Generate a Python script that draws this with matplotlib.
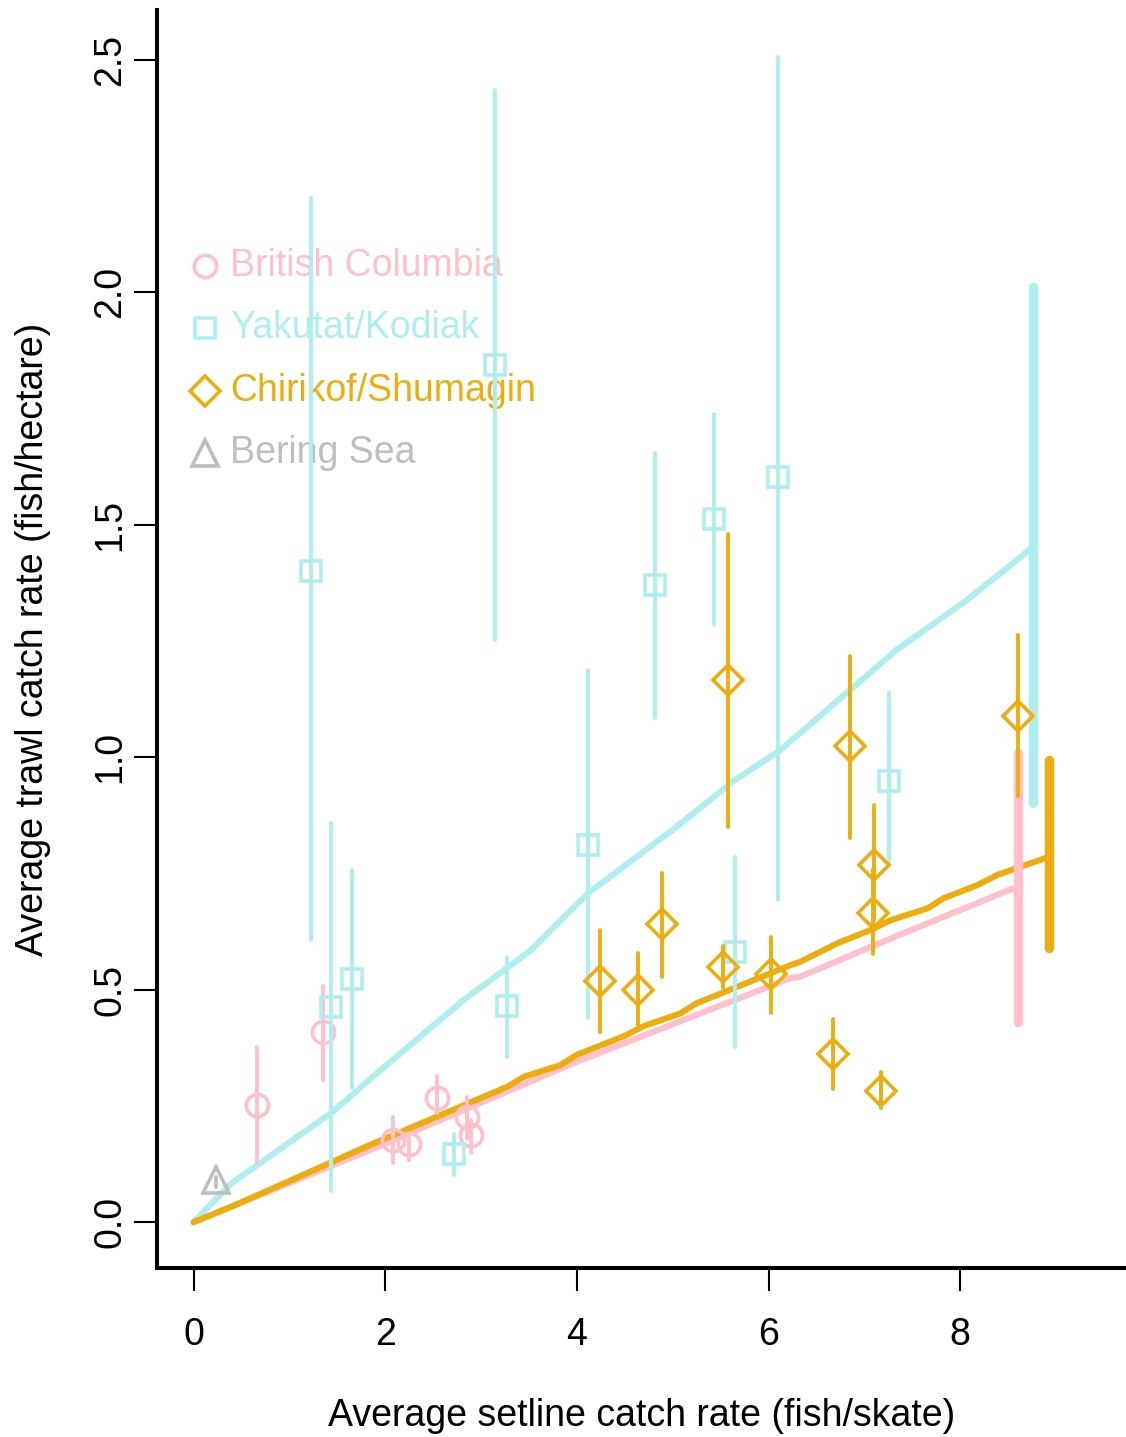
import matplotlib
matplotlib.use("Agg")
import matplotlib.pyplot as plt

plt.rcParams['font.family'] = ['Liberation Sans', 'DejaVu Sans']

# ---------------- data ----------------
regions = ["British Columbia", "Yakutat/Kodiak", "Chirikof/Shumagin", "Bering Sea"]
colors = ["#FFC0CB", "#AFEEEE", "#EEAD0E", "#BEBEBE"]
markers = ["o", "s", "D", "^"]

bc_x = [0.66, 1.35, 2.08, 2.25, 2.54, 2.85, 2.89]
bc_y = [0.252, 0.41, 0.177, 0.168, 0.267, 0.227, 0.187]
bc_lo = [0.127, 0.306, 0.127, 0.133, 0.234, 0.18, 0.148]
bc_hi = [0.377, 0.507, 0.227, 0.19, 0.314, 0.27, 0.22]

yk_x = [1.22, 1.43, 1.65, 2.72, 3.15, 3.27, 4.12, 4.82, 5.43, 5.645, 6.10, 7.26]
yk_y = [1.40, 0.463, 0.523, 0.146, 1.843, 0.465, 0.812, 1.371, 1.513, 0.582, 1.602, 0.949]
yk_lo = [0.606, 0.067, 0.288, 0.101, 1.252, 0.356, 0.439, 1.084, 1.284, 0.376, 0.692, 0.768]
yk_hi = [2.202, 0.858, 0.757, 0.19, 2.434, 0.57, 1.187, 1.654, 1.738, 0.785, 2.505, 1.14]

cs_x = [4.24, 4.635, 4.885, 5.52, 5.575, 6.025, 6.67, 6.85, 7.09, 7.10, 7.17, 8.60]
cs_y = [0.519, 0.50, 0.642, 0.548, 1.165, 0.534, 0.362, 1.025, 0.666, 0.768, 0.283, 1.088]
cs_lo = [0.41, 0.424, 0.528, 0.503, 0.851, 0.45, 0.286, 0.826, 0.577, 0.65, 0.245, 0.916]
cs_hi = [0.629, 0.578, 0.751, 0.593, 1.479, 0.614, 0.436, 1.217, 0.76, 0.898, 0.324, 1.262]

bs_x = [0.23]
bs_y = [0.09]
bs_lo = [0.075]
bs_hi = [0.097]

# fitted lines
bc_line_x = [0, 1.84, 4.0, 6.23, 6.33, 7.32, 8.53, 8.6]
bc_line_y = [0, 0.155, 0.345, 0.525, 0.528, 0.614, 0.716, 0.72]
yk_line_x = [0, 0.39, 1.43, 1.99, 2.82, 3.52, 4.12, 5.0, 5.65, 6.1, 6.33, 7.33, 8.07, 8.76]
yk_line_y = [0, 0.083, 0.234, 0.334, 0.478, 0.585, 0.708, 0.844, 0.951, 1.012, 1.052, 1.23, 1.338, 1.452]
cs_line_x = [0, 0.39, 0.94, 1.84, 2.54, 3.27, 3.45, 3.83, 4.0, 4.49, 4.70, 5.08, 5.25, 5.60,
             5.85, 6.23, 6.33, 6.72, 7.07, 7.28, 7.66, 7.83, 8.18, 8.39, 8.93]
cs_line_y = [0, 0.033, 0.083, 0.166, 0.227, 0.291, 0.313, 0.338, 0.36, 0.40, 0.422, 0.449, 0.471, 0.50,
             0.521, 0.553, 0.56, 0.60, 0.629, 0.65, 0.675, 0.697, 0.725, 0.747, 0.786]

# confidence bars at line ends
end_x = [8.6, 8.76, 8.93]
end_lo = [0.431, 0.901, 0.589]
end_hi = [1.009, 2.012, 0.995]

x_ticks = [0, 2, 4, 6, 8]
y_ticks = [0.0, 0.5, 1.0, 1.5, 2.0, 2.5]
y_ticklabels = ["0.0", "0.5", "1.0", "1.5", "2.0", "2.5"]

# ---------------- figure ----------------
W, H = 1126, 1437
fig = plt.figure(figsize=(W / 100, H / 100), dpi=100)
ax = fig.add_axes([157 / W, 1 - 1268 / H, (W - 157) / W, (1268 - 10) / H])

FS = 27
ax.set_xlim(-0.382, 9.73)
ax.set_ylim(-0.0985, 2.607)

MS = {"o": 16, "s": 15, "D": 15, "^": 19}
MEW = 2.6

# legend drawn first (underneath)
leg_ys = [0.7965, 0.7472, 0.6971, 0.6478]
for name, c, m, ly in zip(regions, colors, markers, leg_ys):
    ax.plot([0.0495], [ly], marker=m, ms=MS[m], mfc="none", mec=c, mew=MEW,
            linestyle="none", transform=ax.transAxes, zorder=1, clip_on=False)
    ax.text(0.0753, ly, name, color=c, fontsize=FS, transform=ax.transAxes,
            ha="left", va="center", zorder=1)

# fitted lines
ax.plot(yk_line_x, yk_line_y, color=colors[1], lw=4.4, zorder=2, solid_capstyle="round")
ax.plot(bc_line_x, bc_line_y, color=colors[0], lw=4.4, zorder=2, solid_capstyle="round")
ax.plot(cs_line_x, cs_line_y, color=colors[2], lw=4.4, zorder=2.1, solid_capstyle="round")

# end-of-line confidence bars
for xe, lo, hi, c in zip(end_x, end_lo, end_hi, colors[:3]):
    ax.plot([xe, xe], [lo, hi], color=c, lw=6.8, solid_capstyle="round", zorder=2.2)

series = [
    (bc_x, bc_y, bc_lo, bc_hi),
    (yk_x, yk_y, yk_lo, yk_hi),
    (cs_x, cs_y, cs_lo, cs_hi),
    (bs_x, bs_y, bs_lo, bs_hi),
]
for (xs, ys, los, his), c, m in zip(series, colors, markers):
    for xv, lo, hi in zip(xs, los, his):
        ax.plot([xv, xv], [lo, hi], color=c, lw=2.8, solid_capstyle="round", zorder=3)
    ax.plot(xs, ys, marker=m, ms=MS[m], mfc="none", mec=c, mew=MEW, linestyle="none", zorder=3)

# axes styling (R bty="l")
for side in ["top", "right"]:
    ax.spines[side].set_visible(False)
for side in ["left", "bottom"]:
    ax.spines[side].set_linewidth(2.9)
ax.set_xticks(x_ticks)
ax.set_xticklabels([str(t) for t in x_ticks])
ax.set_yticks(y_ticks)
ax.set_yticklabels(y_ticklabels, rotation=90, va="center")
ax.tick_params(axis="both", direction="out", length=16.5, width=1.5, labelsize=FS)
ax.tick_params(axis="x", pad=19)
ax.tick_params(axis="y", pad=4)

ax.set_xlabel("Average setline catch rate (fish/skate)", fontsize=FS, labelpad=32)
ax.set_ylabel("Average trawl catch rate (fish/hectare)", fontsize=FS, labelpad=30)

fig.savefig("out.png", dpi=100)
